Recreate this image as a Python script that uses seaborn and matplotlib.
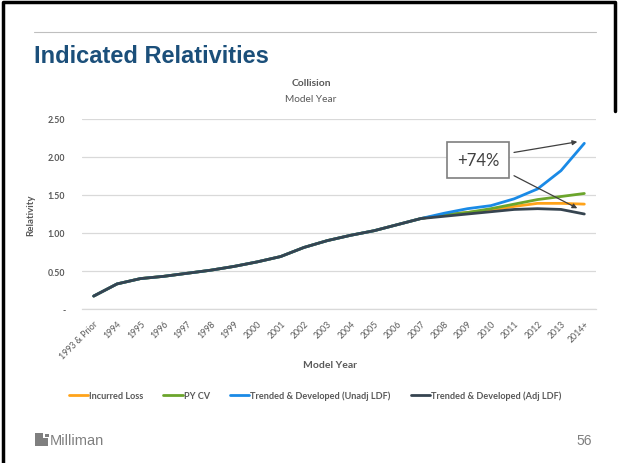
import matplotlib
matplotlib.use("Agg")
import matplotlib.pyplot as plt
import matplotlib.patches as mpatches
import pandas as pd
import seaborn as sns

# Relativity by model year for each loss basis
model_years = ["1993 & Prior", "1994", "1995", "1996", "1997", "1998", "1999",
               "2000", "2001", "2002", "2003", "2004", "2005", "2006", "2007",
               "2008", "2009", "2010", "2011", "2012", "2013", "2014+"]
incurred_loss = [0.17, 0.33, 0.40, 0.43, 0.47, 0.51, 0.56, 0.62, 0.69, 0.81, 0.90,
                 0.97, 1.03, 1.11, 1.19, 1.24, 1.27, 1.30, 1.35, 1.39, 1.39, 1.38]
py_cv = [0.17, 0.33, 0.40, 0.43, 0.47, 0.51, 0.56, 0.62, 0.69, 0.81, 0.90,
         0.97, 1.03, 1.11, 1.19, 1.24, 1.27, 1.32, 1.38, 1.44, 1.48, 1.52]
unadj_ldf = [0.17, 0.33, 0.40, 0.43, 0.47, 0.51, 0.56, 0.62, 0.69, 0.81, 0.90,
             0.97, 1.03, 1.11, 1.19, 1.26, 1.32, 1.36, 1.45, 1.58, 1.82, 2.18]
adj_ldf = [0.17, 0.33, 0.40, 0.43, 0.47, 0.51, 0.56, 0.62, 0.69, 0.81, 0.90,
           0.97, 1.03, 1.11, 1.19, 1.22, 1.25, 1.28, 1.31, 1.32, 1.31, 1.25]

series_names = ["Incurred Loss", "PY CV",
                "Trended & Developed (Unadj LDF)", "Trended & Developed (Adj LDF)"]
series_values = [incurred_loss, py_cv, unadj_ldf, adj_ldf]
series_colors = ["#FFA31A", "#6BA52C", "#1A8AE6", "#364450"]
y_ticks = [0.0, 0.5, 1.0, 1.5, 2.0, 2.5]
y_tick_labels = ["-", "0.50", "1.00", "1.50", "2.00", "2.50"]

rows = []
for name, vals in zip(series_names, series_values):
    for pos, (yr, v) in enumerate(zip(model_years, vals)):
        rows.append({"pos": pos, "Model Year": yr, "Relativity": v, "Series": name})
df = pd.DataFrame(rows)

sns.set_theme(style="white")
plt.rcParams["font.family"] = ["Lato", "DejaVu Sans"]

GREY = "#595959"
W, H = 618, 464
fig = plt.figure(figsize=(W / 100, H / 100), dpi=100)
fig.patch.set_facecolor("white")

ax = fig.add_axes([82 / W, 1 - 310 / H, 514 / W, 190 / H])
sns.lineplot(data=df, x="pos", y="Relativity", hue="Series",
             hue_order=series_names, palette=series_colors,
             linewidth=2.0, sort=False, ax=ax, legend=True)

ax.set_xlim(-0.5, len(model_years) - 0.5)
ax.set_ylim(0, 2.5)
ax.set_xticks(range(len(model_years)))
ax.set_xticklabels(model_years, rotation=45, ha="right", rotation_mode="anchor",
                   fontsize=6.3, color=GREY)
ax.set_yticks(y_ticks)
ax.set_yticklabels(y_tick_labels, fontsize=6.3, color=GREY, fontweight="bold")
ax.tick_params(axis="both", length=0)
ax.tick_params(axis="y", pad=12)
ax.tick_params(axis="x", pad=7)
ax.yaxis.grid(True, color="#D9D9D9", linewidth=0.9)
ax.xaxis.grid(False)
for side in ["top", "right", "left"]:
    ax.spines[side].set_visible(False)
ax.spines["bottom"].set_color("#D9D9D9")
ax.spines["bottom"].set_linewidth(0.9)

ax.set_xlabel("")
ax.set_ylabel("Relativity", fontsize=7, fontweight="bold", color=GREY, labelpad=9)
fig.text(330 / W, 1 - 366 / H, "Model Year", fontsize=7.5, fontweight="bold",
         color=GREY, ha="center", va="center")

# Chart title block
fig.text(311 / W, 1 - 83 / H, "Collision", fontsize=7.5, fontweight="bold",
         color=GREY, ha="center", va="center")
fig.text(311 / W, 1 - 100 / H, "Model Year", fontsize=7.3, color=GREY,
         ha="center", va="center")

# Legend
handles, labels = ax.get_legend_handles_labels()
ax.legend_.remove()
leg = fig.legend(handles, labels, loc="center", bbox_to_anchor=(315 / W, 1 - 396 / H),
                 ncol=4, frameon=False, handlelength=2.1, handletextpad=0.1,
                 columnspacing=2.2, prop={"family": "Lato", "weight": "bold", "size": 6.6})
for t in leg.get_texts():
    t.set_color(GREY)
for h in leg.legend_handles:
    h.set_linewidth(2.0)

# Spread between unadjusted and adjusted latest-year relativities
spread = unadj_ldf[-1] / adj_ldf[-1] - 1
ax.text(16.45, 1.96, f"+{spread * 100:.0f}%", fontsize=12, color="#404040",
        ha="center", va="center",
        bbox=dict(boxstyle="square,pad=0.6", facecolor="white",
                  edgecolor="#7F7F7F", linewidth=1.2))
arrow_style = dict(arrowstyle="-|>", color="#404040", linewidth=0.9,
                   mutation_scale=7, shrinkA=0, shrinkB=0)
ax.annotate("", xy=(20.7, 2.20), xytext=(17.99, 2.06), arrowprops=arrow_style)
ax.annotate("", xy=(20.7, 1.325), xytext=(17.99, 1.754), arrowprops=arrow_style)

# Slide header
fig.text(34 / W, 1 - 63 / H, "Indicated Relativities", fontsize=17,
         fontweight="bold", color="#1B4F7A", family=["Liberation Sans", "DejaVu Sans"],
         ha="left", va="baseline")
fig.add_artist(plt.Line2D([34 / W, 596 / W], [1 - 33 / H, 1 - 33 / H],
                          color="#BFBFBF", linewidth=0.8))

# Footer: logo and page number
logo_grey = "#7F7F7F"
fig.add_artist(mpatches.Rectangle((35 / W, 1 - 447 / H), 13 / W, 13 / H,
                                  facecolor=logo_grey, edgecolor="none"))
fig.add_artist(mpatches.Rectangle((43 / W, 1 - 439 / H), 5.5 / W, 5.5 / H,
                                  facecolor="white", edgecolor="none"))
fig.add_artist(mpatches.Rectangle((45 / W, 1 - 438 / H), 3.5 / W, 3.5 / H,
                                  facecolor=logo_grey, edgecolor="none"))
fig.text(50 / W, 1 - 441 / H, "Milliman", fontsize=10.5, color=logo_grey,
         family=["Liberation Sans", "DejaVu Sans"], ha="left", va="center")
fig.text(592 / W, 1 - 441 / H, "56", fontsize=10, color=logo_grey,
         family=["Liberation Sans", "DejaVu Sans"], ha="right", va="center")

# Outer frame
fig.add_artist(plt.Line2D([3 / W, 3 / W, 615 / W, 615 / W],
                          [0, 1 - 3 / H, 1 - 3 / H, 1 - 112 / H],
                          color="black", linewidth=2.5))

fig.savefig("out.png", dpi=100, facecolor="white")
